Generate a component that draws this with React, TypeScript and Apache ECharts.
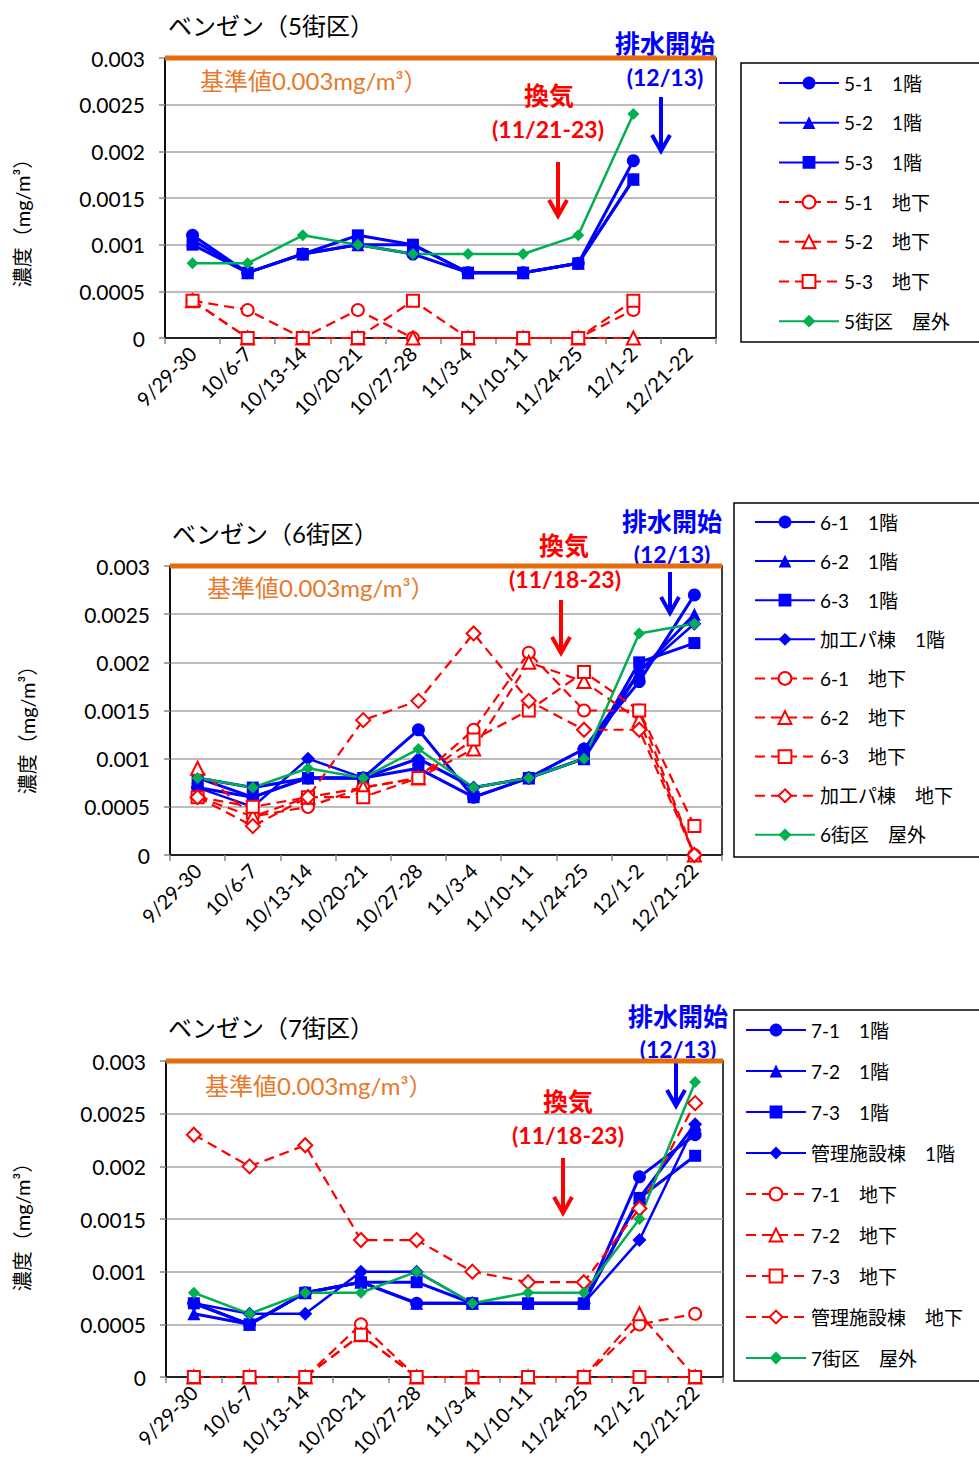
import React, { useEffect, useRef } from 'react';
import * as echarts from 'echarts';

const categories = ['9/29-30', '10/6-7', '10/13-14', '10/20-21', '10/27-28', '11/3-4', '11/10-11', '11/24-25', '12/1-2', '12/21-22'];

// Panel 1 : 5街区
const p1Names = ['5-1　1階', '5-2　1階', '5-3　1階', '5-1　地下', '5-2　地下', '5-3　地下', '5街区　屋外'];
const p1_51_1F = [0.0011, 0.0007, 0.0009, 0.001, 0.0009, 0.0007, 0.0007, 0.0008, 0.0019];
const p1_52_1F = [0.00105, 0.0007, 0.0009, 0.001, 0.001, 0.0007, 0.0007, 0.0008, 0.0017];
const p1_53_1F = [0.001, 0.0007, 0.0009, 0.0011, 0.001, 0.0007, 0.0007, 0.0008, 0.0017];
const p1_51_B = [0.0004, 0.0003, 0, 0.0003, 0, 0, 0, 0, 0.0003];
const p1_52_B = [0.0004, 0, 0, 0, 0, 0, 0, 0, 0];
const p1_53_B = [0.0004, 0, 0, 0, 0.0004, 0, 0, 0, 0.0004];
const p1_out = [0.0008, 0.0008, 0.0011, 0.001, 0.0009, 0.0009, 0.0009, 0.0011, 0.0024];

// Panel 2 : 6街区
const p2Names = ['6-1　1階', '6-2　1階', '6-3　1階', '加工パ棟　1階', '6-1　地下', '6-2　地下', '6-3　地下', '加工パ棟　地下', '6街区　屋外'];
const p2_61_1F = [0.0007, 0.0006, 0.0008, 0.0008, 0.0013, 0.0006, 0.0008, 0.0011, 0.0018, 0.0027];
const p2_62_1F = [0.0008, 0.0006, 0.0008, 0.0008, 0.001, 0.0007, 0.0008, 0.001, 0.0019, 0.0025];
const p2_63_1F = [0.0008, 0.0007, 0.0008, 0.0008, 0.0009, 0.0006, 0.0008, 0.001, 0.002, 0.0022];
const p2_kp_1F = [0.0007, 0.0005, 0.001, 0.0008, 0.001, 0.0007, 0.0008, 0.0011, 0.0019, 0.0024];
const p2_61_B = [0.0006, 0.0004, 0.0005, 0.0007, 0.0008, 0.0013, 0.0021, 0.0015, 0.0015, 0];
const p2_62_B = [0.0009, 0.0004, 0.0006, 0.0007, 0.0008, 0.0011, 0.002, 0.0018, 0.0014, 0];
const p2_63_B = [0.0006, 0.0005, 0.0006, 0.0006, 0.0008, 0.0012, 0.0015, 0.0019, 0.0015, 0.0003];
const p2_kp_B = [0.0006, 0.0003, 0.0006, 0.0014, 0.0016, 0.0023, 0.0016, 0.0013, 0.0013, 0];
const p2_out = [0.0008, 0.0007, 0.0009, 0.0008, 0.0011, 0.0007, 0.0008, 0.001, 0.0023, 0.0024];

// Panel 3 : 7街区
const p3Names = ['7-1　1階', '7-2　1階', '7-3　1階', '管理施設棟　1階', '7-1　地下', '7-2　地下', '7-3　地下', '管理施設棟　地下', '7街区　屋外'];
const p3_71_1F = [0.0007, 0.0005, 0.0008, 0.0009, 0.0007, 0.0007, 0.0007, 0.0007, 0.0019, 0.0023];
const p3_72_1F = [0.0006, 0.0005, 0.0008, 0.0009, 0.0007, 0.0007, 0.0007, 0.0007, 0.0017, 0.0024];
const p3_73_1F = [0.0007, 0.0005, 0.0008, 0.0009, 0.0009, 0.0007, 0.0007, 0.0007, 0.0017, 0.0021];
const p3_kr_1F = [0.0007, 0.0006, 0.0006, 0.001, 0.001, 0.0007, 0.0007, 0.0007, 0.0013, 0.0024];
const p3_71_B = [0, 0, 0, 0.0005, 0, 0, 0, 0, 0.0005, 0.0006];
const p3_72_B = [0, 0, 0, 0.0004, 0, 0, 0, 0, 0.0006, 0];
const p3_73_B = [0, 0, 0, 0.0004, 0, 0, 0, 0, 0, 0];
const p3_kr_B = [0.0023, 0.002, 0.0022, 0.0013, 0.0013, 0.001, 0.0009, 0.0009, 0.0016, 0.0026];
const p3_out = [0.0008, 0.0006, 0.0008, 0.0008, 0.001, 0.0007, 0.0008, 0.0008, 0.0015, 0.0028];

const STANDARD = 0.003;

const BLUE = '#0000FF';
const RED = '#FF0000';
const GREEN = '#00B050';
const ORANGE = '#E46C0A';
const FONT = "Lato, 'Noto Sans CJK JP', sans-serif";

function blueSeries(name: string, data: number[], symbol: string, size: number, idx: number, width = 3) {
  return {
    name, type: 'line', xAxisIndex: idx, yAxisIndex: idx, data, symbol, symbolSize: size,
    lineStyle: { color: BLUE, width }, itemStyle: { color: BLUE },
  };
}
function redSeries(name: string, data: number[], symbol: string, size: number, idx: number) {
  return {
    name, type: 'line', xAxisIndex: idx, yAxisIndex: idx, data, symbol, symbolSize: size,
    lineStyle: { color: RED, width: 2.2, type: [10, 6] }, itemStyle: { color: RED, borderWidth: 1.5 },
  };
}
function greenSeries(name: string, data: number[], idx: number) {
  return {
    name, type: 'line', xAxisIndex: idx, yAxisIndex: idx, data, symbol: 'diamond', symbolSize: 12,
    lineStyle: { color: GREEN, width: 2.5 }, itemStyle: { color: GREEN },
  };
}

const grids = [
  { left: 165, top: 58, width: 551, height: 280 },
  { left: 170, top: 566, width: 552, height: 289 },
  { left: 166, top: 1061, width: 557, height: 316 },
];

function arrow(x: number, y1: number, y2: number, color: string) {
  return [
    { type: 'line', shape: { x1: x, y1, x2: x, y2: y2 - 2 }, style: { stroke: color, lineWidth: 4 } },
    { type: 'polyline', shape: { points: [[x - 9, y2 - 16], [x, y2], [x + 9, y2 - 16]] }, style: { stroke: color, lineWidth: 4, fill: null } },
  ];
}

function txt(x: number, y: number, text: string, size: number, color: string, align = 'left', weight = 'normal') {
  return {
    type: 'text', x, y,
    style: { text, fontSize: size, fontWeight: weight, fontFamily: FONT, fill: color, align, verticalAlign: 'middle' },
  };
}

function yName(x: number, y: number) {
  return {
    type: 'text', x, y, rotation: Math.PI / 2,
    style: { text: '濃度（mg/m³）', fontSize: 20, fontFamily: FONT, fill: '#000', align: 'center', verticalAlign: 'middle' },
  };
}

export default function App() {
  const ref = useRef<HTMLDivElement>(null);
  useEffect(() => {
    if (!ref.current) return;
    const chart = echarts.init(ref.current, undefined, { renderer: 'svg' });
    const xAxes = grids.map((_, i) => ({
      type: 'category', gridIndex: i, data: categories, boundaryGap: true,
      axisLine: { lineStyle: { color: '#000', width: 1.5 } },
      axisTick: { show: true, length: 6, lineStyle: { color: '#888', width: 1.5 } },
      axisLabel: { rotate: 45, interval: 0, fontSize: 20, color: '#000', margin: 12, fontFamily: FONT },
    }));
    const yAxes = grids.map((_, i) => ({
      type: 'value', gridIndex: i, min: 0, max: 0.003, interval: 0.0005,
      axisLine: { show: true, lineStyle: { color: '#000', width: 1.5 } },
      axisTick: { show: true, length: 6, lineStyle: { color: '#888', width: 1.5 } },
      splitLine: { lineStyle: { color: '#A6A6A6', width: 1.5 } },
      axisLabel: { fontSize: 21, color: '#000', margin: 20, fontFamily: FONT, formatter: (v: number) => String(+v.toFixed(4)) },
    }));
    const legendCommon = {
      orient: 'vertical', itemWidth: 60, itemHeight: 16, padding: 0,
      textStyle: { fontSize: 19, color: '#000', fontFamily: FONT, lineHeight: 20 },
      selectedMode: false,
    };
    const series: any[] = [
      blueSeries(p1Names[0], p1_51_1F, 'circle', 13, 0),
      blueSeries(p1Names[1], p1_52_1F, 'triangle', 13, 0),
      blueSeries(p1Names[2], p1_53_1F, 'rect', 12, 0),
      redSeries(p1Names[3], p1_51_B, 'emptyCircle', 12, 0),
      redSeries(p1Names[4], p1_52_B, 'emptyTriangle', 13, 0),
      redSeries(p1Names[5], p1_53_B, 'emptyRect', 12, 0),
      greenSeries(p1Names[6], p1_out, 0),
      blueSeries(p2Names[0], p2_61_1F, 'circle', 13, 1),
      blueSeries(p2Names[1], p2_62_1F, 'triangle', 13, 1),
      blueSeries(p2Names[2], p2_63_1F, 'rect', 12, 1),
      blueSeries(p2Names[3], p2_kp_1F, 'diamond', 14, 1, 2.5),
      redSeries(p2Names[4], p2_61_B, 'emptyCircle', 12, 1),
      redSeries(p2Names[5], p2_62_B, 'emptyTriangle', 13, 1),
      redSeries(p2Names[6], p2_63_B, 'emptyRect', 12, 1),
      redSeries(p2Names[7], p2_kp_B, 'emptyDiamond', 14, 1),
      greenSeries(p2Names[8], p2_out, 1),
      blueSeries(p3Names[0], p3_71_1F, 'circle', 13, 2),
      blueSeries(p3Names[1], p3_72_1F, 'triangle', 13, 2),
      blueSeries(p3Names[2], p3_73_1F, 'rect', 12, 2),
      blueSeries(p3Names[3], p3_kr_1F, 'diamond', 14, 2, 2.5),
      redSeries(p3Names[4], p3_71_B, 'emptyCircle', 12, 2),
      redSeries(p3Names[5], p3_72_B, 'emptyTriangle', 13, 2),
      redSeries(p3Names[6], p3_73_B, 'emptyRect', 12, 2),
      redSeries(p3Names[7], p3_kr_B, 'emptyDiamond', 14, 2),
      greenSeries(p3Names[8], p3_out, 2),
    ];
    chart.setOption({
      animation: false,
      backgroundColor: '#fff',
      textStyle: { fontFamily: FONT },
      grid: grids.map((g) => ({ ...g, show: true, borderColor: '#000', borderWidth: 1.5, backgroundColor: 'transparent' })),
      xAxis: xAxes,
      yAxis: yAxes,
      legend: [
        { ...legendCommon, left: 778, top: 73, itemGap: 19.7, data: p1Names },
        { ...legendCommon, left: 754, top: 512, itemGap: 19.1, data: p2Names },
        { ...legendCommon, left: 745, top: 1020, itemGap: 21, data: p3Names },
      ],
      series,
    });

    // standard-value lines placed through the y axis scale
    const stdLines = grids.map((g, i) => {
      const y = chart.convertToPixel({ yAxisIndex: i }, STANDARD) as number;
      return {
        type: 'line', z: 10,
        shape: { x1: g.left, y1: y, x2: g.left + g.width, y2: y },
        style: { stroke: ORANGE, lineWidth: 5 },
      };
    });

    const graphic: any[] = [
      // legend boxes
      { type: 'rect', shape: { x: 741, y: 63, width: 260, height: 279 }, style: { fill: '#fff', stroke: '#000', lineWidth: 1.5 }, z: -1 },
      { type: 'rect', shape: { x: 734, y: 503, width: 260, height: 354 }, style: { fill: '#fff', stroke: '#000', lineWidth: 1.5 }, z: -1 },
      { type: 'rect', shape: { x: 734, y: 1010, width: 260, height: 371 }, style: { fill: '#fff', stroke: '#000', lineWidth: 1.5 }, z: -1 },
      ...stdLines,
      // titles
      txt(168, 25, 'ベンゼン（5街区）', 24, '#000'),
      txt(172, 533, 'ベンゼン（6街区）', 24, '#000'),
      txt(168, 1027, 'ベンゼン（7街区）', 24, '#000'),
      // standards
      txt(200, 80, '基準値0.003mg/m³）', 24, '#E8792B'),
      txt(207, 587, '基準値0.003mg/m³）', 24, '#E8792B'),
      txt(205, 1085, '基準値0.003mg/m³）', 24, '#E8792B'),
      // y names
      yName(22, 218), yName(27, 725), yName(22, 1222),
      // panel1 annotations
      txt(549, 95, '換気', 25, RED, 'center', 'bold'),
      txt(548, 129, '(11/21-23)', 23, RED, 'center', 'bold'),
      txt(665, 43, '排水開始', 25, BLUE, 'center', 'bold'),
      txt(665, 77, '(12/13)', 23, BLUE, 'center', 'bold'),
      ...arrow(558, 162, 216, RED),
      ...arrow(661, 97, 151, BLUE),
      // panel2
      txt(564, 545, '換気', 25, RED, 'center', 'bold'),
      txt(565, 579, '(11/18-23)', 23, RED, 'center', 'bold'),
      txt(672, 521, '排水開始', 25, BLUE, 'center', 'bold'),
      txt(672, 554, '(12/13)', 23, BLUE, 'center', 'bold'),
      ...arrow(561, 600, 653, RED),
      ...arrow(670, 572, 613, BLUE),
      // panel3
      txt(568, 1101, '換気', 25, RED, 'center', 'bold'),
      txt(568, 1135, '(11/18-23)', 23, RED, 'center', 'bold'),
      txt(678, 1016, '排水開始', 25, BLUE, 'center', 'bold'),
      txt(678, 1049, '(12/13)', 23, BLUE, 'center', 'bold'),
      ...arrow(563, 1158, 1213, RED),
      ...arrow(676, 1063, 1106, BLUE),
    ];
    chart.setOption({ graphic });
    return () => chart.dispose();
  }, []);
  return <div ref={ref} style={{ position: 'absolute', left: 0, top: 0, width: 979, height: 1467 }} />;
}
